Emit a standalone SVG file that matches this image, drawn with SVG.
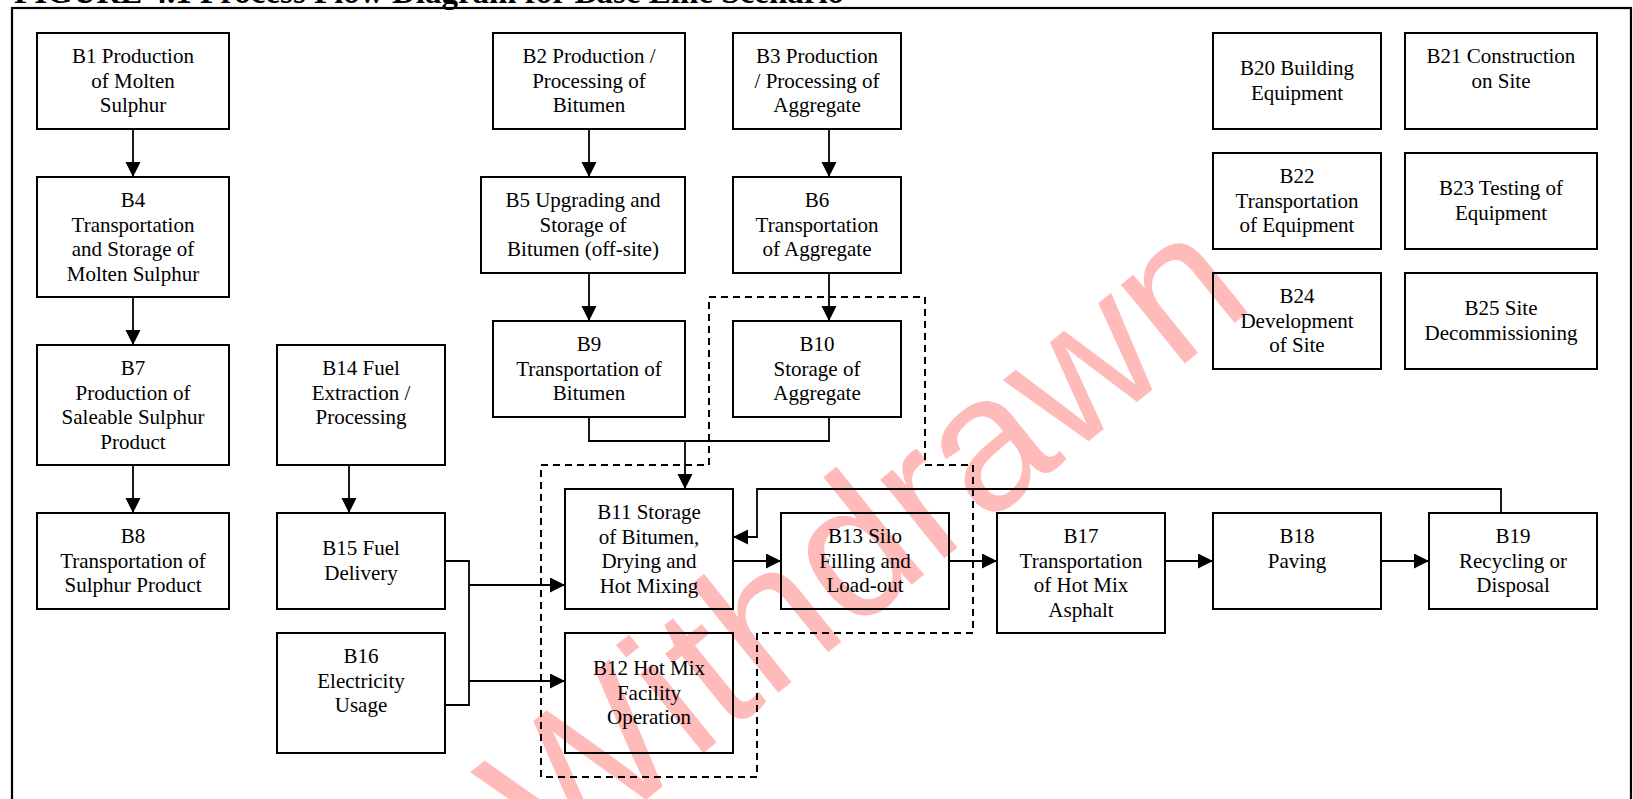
<svg xmlns="http://www.w3.org/2000/svg" width="1633" height="799" viewBox="0 0 1633 799">
<style>
.box{fill:none;stroke:#000;stroke-width:2}
.t{font-family:"Liberation Serif","Times New Roman",serif;font-size:21px;text-anchor:middle;fill:#000}
.c{fill:none;stroke:#000;stroke-width:1.8}
.a{fill:none;stroke:#000;stroke-width:1.8;marker-end:url(#arr)}
.dash{fill:none;stroke:#000;stroke-width:2;stroke-dasharray:7,5}
.title{font-family:"Liberation Serif","Times New Roman",serif;font-size:33px;font-weight:bold;fill:#000}
.wm{font-family:"Liberation Sans",Arial,sans-serif;font-size:192px;fill:#ff0000;fill-opacity:0.27;text-anchor:middle}
</style>
<defs>
<marker id="arr" markerUnits="userSpaceOnUse" markerWidth="16" markerHeight="16" refX="15" refY="7.5" orient="auto">
<path d="M0,0 L15,7.5 L0,15 z" fill="#000"/>
</marker>
</defs>
<rect width="1633" height="799" fill="#fff"/>
<text class="wm" x="905" y="590" transform="rotate(-39 905 590)">Withdrawn</text>
<text class="title" x="14" y="3">FIGURE 4.1  Process Flow Diagram for Base Line Scenario</text>
<rect x="12" y="8" width="1619" height="800" fill="none" stroke="#000" stroke-width="2.2"/>

<g id="connectors">
<line class="a" x1="133" y1="129" x2="133" y2="177"/>
<line class="a" x1="133" y1="297" x2="133" y2="345"/>
<line class="a" x1="133" y1="465" x2="133" y2="513"/>
<line class="a" x1="349" y1="465" x2="349" y2="513"/>
<line class="a" x1="589" y1="129" x2="589" y2="177"/>
<line class="a" x1="829" y1="129" x2="829" y2="177"/>
<line class="a" x1="589" y1="273" x2="589" y2="321"/>
<line class="a" x1="829" y1="273" x2="829" y2="321"/>
<polyline class="c" points="589,417 589,441 829,441 829,417"/>
<line class="a" x1="685" y1="441" x2="685" y2="489"/>
<polyline class="c" points="445,561 469,561 469,705 445,705"/>
<line class="a" x1="469" y1="585" x2="565" y2="585"/>
<line class="a" x1="469" y1="681" x2="565" y2="681"/>
<line class="a" x1="733" y1="561" x2="781" y2="561"/>
<line class="a" x1="949" y1="561" x2="997" y2="561"/>
<line class="a" x1="1165" y1="561" x2="1213" y2="561"/>
<line class="a" x1="1381" y1="561" x2="1429" y2="561"/>
<polyline class="a" points="1501,513 1501,489 757,489 757,537 733,537"/>
<polygon class="dash" points="541,465 709,465 709,297 925,297 925,465 973,465 973,633 757,633 757,777 541,777"/>
</g>

<g id="B1"><rect class="box" x="37" y="33" width="192" height="96"/><text class="t"><tspan x="133" y="63">B1 Production</tspan><tspan x="133" y="87.5">of Molten</tspan><tspan x="133" y="112">Sulphur</tspan></text></g>
<g id="B4"><rect class="box" x="37" y="177" width="192" height="120"/><text class="t"><tspan x="133" y="207">B4</tspan><tspan x="133" y="231.5">Transportation</tspan><tspan x="133" y="256">and Storage of</tspan><tspan x="133" y="280.5">Molten Sulphur</tspan></text></g>
<g id="B7"><rect class="box" x="37" y="345" width="192" height="120"/><text class="t"><tspan x="133" y="375">B7</tspan><tspan x="133" y="399.5">Production of</tspan><tspan x="133" y="424">Saleable Sulphur</tspan><tspan x="133" y="448.5">Product</tspan></text></g>
<g id="B8"><rect class="box" x="37" y="513" width="192" height="96"/><text class="t"><tspan x="133" y="543">B8</tspan><tspan x="133" y="567.5">Transportation of</tspan><tspan x="133" y="592">Sulphur Product</tspan></text></g>
<g id="B14"><rect class="box" x="277" y="345" width="168" height="120"/><text class="t"><tspan x="361" y="375">B14 Fuel</tspan><tspan x="361" y="399.5">Extraction /</tspan><tspan x="361" y="424">Processing</tspan></text></g>
<g id="B15"><rect class="box" x="277" y="513" width="168" height="96"/><text class="t"><tspan x="361" y="555">B15 Fuel</tspan><tspan x="361" y="579.5">Delivery</tspan></text></g>
<g id="B16"><rect class="box" x="277" y="633" width="168" height="120"/><text class="t"><tspan x="361" y="663">B16</tspan><tspan x="361" y="687.5">Electricity</tspan><tspan x="361" y="712">Usage</tspan></text></g>
<g id="B2"><rect class="box" x="493" y="33" width="192" height="96"/><text class="t"><tspan x="589" y="63">B2 Production /</tspan><tspan x="589" y="87.5">Processing of</tspan><tspan x="589" y="112">Bitumen</tspan></text></g>
<g id="B3"><rect class="box" x="733" y="33" width="168" height="96"/><text class="t"><tspan x="817" y="63">B3 Production</tspan><tspan x="817" y="87.5">/ Processing of</tspan><tspan x="817" y="112">Aggregate</tspan></text></g>
<g id="B5"><rect class="box" x="481" y="177" width="204" height="96"/><text class="t"><tspan x="583" y="207">B5 Upgrading and</tspan><tspan x="583" y="231.5">Storage of</tspan><tspan x="583" y="256">Bitumen (off-site)</tspan></text></g>
<g id="B6"><rect class="box" x="733" y="177" width="168" height="96"/><text class="t"><tspan x="817" y="207">B6</tspan><tspan x="817" y="231.5">Transportation</tspan><tspan x="817" y="256">of Aggregate</tspan></text></g>
<g id="B9"><rect class="box" x="493" y="321" width="192" height="96"/><text class="t"><tspan x="589" y="351">B9</tspan><tspan x="589" y="375.5">Transportation of</tspan><tspan x="589" y="400">Bitumen</tspan></text></g>
<g id="B10"><rect class="box" x="733" y="321" width="168" height="96"/><text class="t"><tspan x="817" y="351">B10</tspan><tspan x="817" y="375.5">Storage of</tspan><tspan x="817" y="400">Aggregate</tspan></text></g>
<g id="B11"><rect class="box" x="565" y="489" width="168" height="120"/><text class="t"><tspan x="649" y="519">B11 Storage</tspan><tspan x="649" y="543.5">of Bitumen,</tspan><tspan x="649" y="568">Drying and</tspan><tspan x="649" y="592.5">Hot Mixing</tspan></text></g>
<g id="B12"><rect class="box" x="565" y="633" width="168" height="120"/><text class="t"><tspan x="649" y="675">B12 Hot Mix</tspan><tspan x="649" y="699.5">Facility</tspan><tspan x="649" y="724">Operation</tspan></text></g>
<g id="B13"><rect class="box" x="781" y="513" width="168" height="96"/><text class="t"><tspan x="865" y="543">B13 Silo</tspan><tspan x="865" y="567.5">Filling and</tspan><tspan x="865" y="592">Load-out</tspan></text></g>
<g id="B17"><rect class="box" x="997" y="513" width="168" height="120"/><text class="t"><tspan x="1081" y="543">B17</tspan><tspan x="1081" y="567.5">Transportation</tspan><tspan x="1081" y="592">of Hot Mix</tspan><tspan x="1081" y="616.5">Asphalt</tspan></text></g>
<g id="B18"><rect class="box" x="1213" y="513" width="168" height="96"/><text class="t"><tspan x="1297" y="543">B18</tspan><tspan x="1297" y="567.5">Paving</tspan></text></g>
<g id="B19"><rect class="box" x="1429" y="513" width="168" height="96"/><text class="t"><tspan x="1513" y="543">B19</tspan><tspan x="1513" y="567.5">Recycling or</tspan><tspan x="1513" y="592">Disposal</tspan></text></g>
<g id="B20"><rect class="box" x="1213" y="33" width="168" height="96"/><text class="t"><tspan x="1297" y="75">B20 Building</tspan><tspan x="1297" y="99.5">Equipment</tspan></text></g>
<g id="B21"><rect class="box" x="1405" y="33" width="192" height="96"/><text class="t"><tspan x="1501" y="63">B21 Construction</tspan><tspan x="1501" y="87.5">on Site</tspan></text></g>
<g id="B22"><rect class="box" x="1213" y="153" width="168" height="96"/><text class="t"><tspan x="1297" y="183">B22</tspan><tspan x="1297" y="207.5">Transportation</tspan><tspan x="1297" y="232">of Equipment</tspan></text></g>
<g id="B23"><rect class="box" x="1405" y="153" width="192" height="96"/><text class="t"><tspan x="1501" y="195">B23 Testing of</tspan><tspan x="1501" y="219.5">Equipment</tspan></text></g>
<g id="B24"><rect class="box" x="1213" y="273" width="168" height="96"/><text class="t"><tspan x="1297" y="303">B24</tspan><tspan x="1297" y="327.5">Development</tspan><tspan x="1297" y="352">of Site</tspan></text></g>
<g id="B25"><rect class="box" x="1405" y="273" width="192" height="96"/><text class="t"><tspan x="1501" y="315">B25 Site</tspan><tspan x="1501" y="339.5">Decommissioning</tspan></text></g>
</svg>
